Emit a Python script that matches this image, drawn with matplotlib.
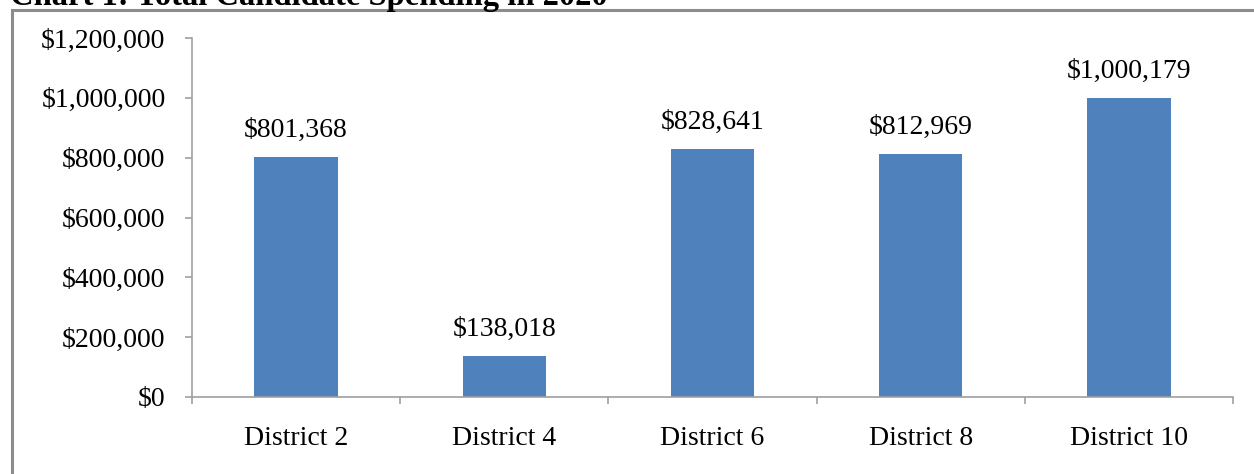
import matplotlib
matplotlib.use("Agg")
import matplotlib.pyplot as plt
from matplotlib.patches import Rectangle
from matplotlib.ticker import FuncFormatter, FixedLocator

categories = ["District 2", "District 4", "District 6", "District 8", "District 10"]
spending = [801368, 138018, 828641, 812969, 1000179]
y_ticks = [0, 200000, 400000, 600000, 800000, 1000000, 1200000]
title = "Chart 1: Total Candidate Spending in 2020"

plt.rcParams['font.family'] = ['Liberation Serif', 'DejaVu Serif']

W, H = 1254, 474
fig = plt.figure(figsize=(W / 100, H / 100), dpi=100)
fig.patch.set_facecolor("white")

# outer frame (extends beyond right/bottom edges)
fig.patches.append(Rectangle((12 / W, -0.1), 1.2, 1 - 10 / H + 0.1,
                             transform=fig.transFigure, fill=False,
                             edgecolor="#8c8c8c", linewidth=2.2))
fig.text(10 / W, 1 - 4.5 / H, title, fontsize=23.5, fontweight="bold",
         ha="left", va="baseline")

ax = fig.add_axes([192 / W, 1 - 397 / H, (1233 - 192) / W, (397 - 38) / H])
x = list(range(len(categories)))
bars = ax.bar(x, spending, width=0.4, color="#4F81BD", zorder=2)
ax.set_xlim(-0.5, len(categories) - 0.5)
ax.set_ylim(0, 1200000)
ax.set_yticks(y_ticks)
ax.yaxis.set_major_formatter(FuncFormatter(lambda v, p: "${:,.0f}".format(v)))
ax.set_xticks(x)
ax.set_xticklabels(categories)
ax.xaxis.set_minor_locator(FixedLocator([i - 0.5 for i in range(len(categories) + 1)]))
ax.tick_params(axis="x", which="major", length=0, pad=21, labelsize=20)
ax.tick_params(axis="x", which="minor", length=5, color="#a0a0a0", width=1.2)
ax.tick_params(axis="y", length=5, color="#a0a0a0", width=1.2, pad=14, labelsize=20)
for s in ["top", "right"]:
    ax.spines[s].set_visible(False)
for s in ["left", "bottom"]:
    ax.spines[s].set_color("#a0a0a0")
    ax.spines[s].set_linewidth(1.2)

for xi, v in zip(x, spending):
    ax.annotate("${:,.0f}".format(v), (xi, v), xytext=(0, 10),
                textcoords="offset points", ha="center", va="bottom", fontsize=20)

fig.savefig("out.png", dpi=100)
